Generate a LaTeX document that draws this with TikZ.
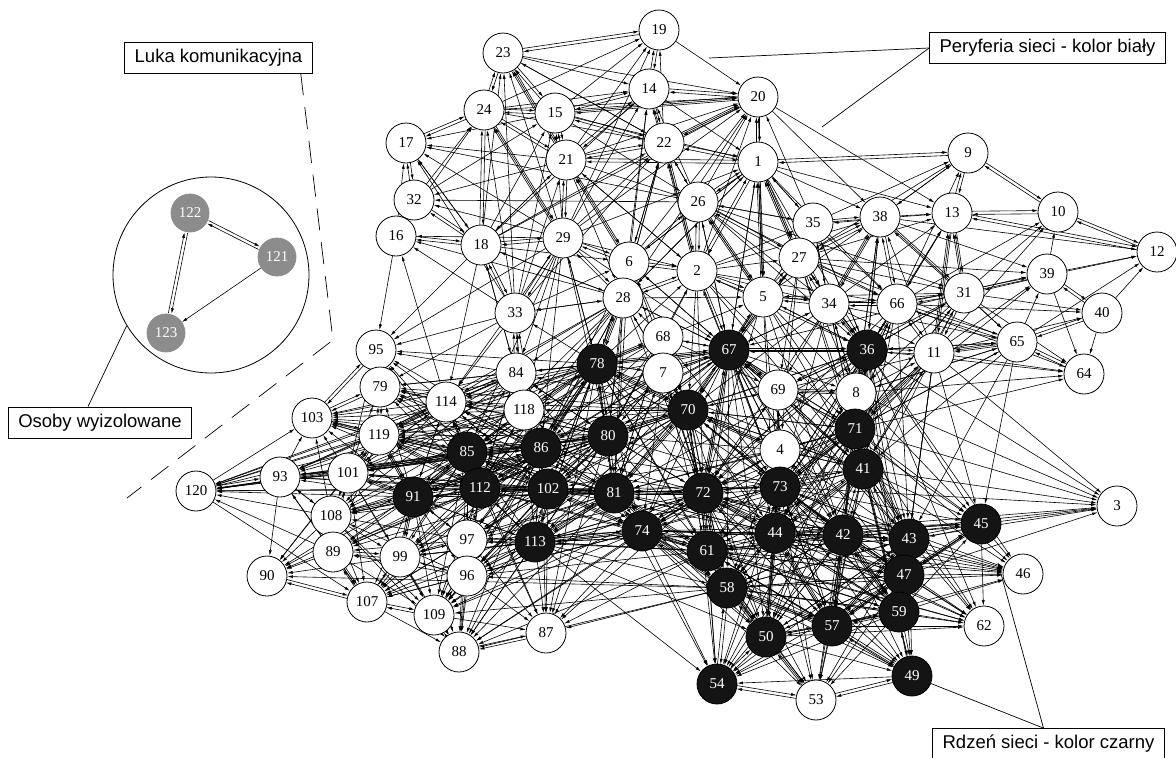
\documentclass[tikz,border=0pt]{standalone}
\usepackage{fontspec}
\usetikzlibrary{arrows.meta,calc}
\newfontfamily\numfont{Liberation Serif}
\newfontfamily\labfont{Liberation Sans}
\definecolor{corefill}{HTML}{141414}
\definecolor{isofill}{HTML}{8C8C8C}
\pgfdeclarelayer{edges}
\pgfsetlayers{edges,main}
\begin{document}
\begin{tikzpicture}[x=1pt,y=-1pt,
  vert/.style={circle,draw=black,line width=0.8pt,minimum size=40pt,inner sep=0pt,
    font=\numfont\fontsize{15}{15}\selectfont},
  pnode/.style={vert,fill=white},
  cnode/.style={vert,fill=corefill,text=white},
  inode/.style={vert,fill=isofill,draw=isofill,text=white,minimum size=38pt},
  arc/.style={line width=0.6pt,-{Latex[length=5.5pt,width=3pt]}},
  twin/.style={arc,shorten <=20pt,shorten >=20pt},
  note/.style={draw,line width=0.8pt,font=\labfont\fontsize{18.5}{20}\selectfont,
    inner xsep=10pt,inner ysep=0pt,minimum height=31pt},
  lead/.style={line width=0.7pt}]
\useasboundingbox (0,0) rectangle (1176,758);

% periphery (white)
\foreach \n/\x/\y in {19/659/30, 23/503/53, 14/649/89, 20/758/97, 24/484/110, 15/555/113,
  17/406/143, 22/664/143, 21/566/160, 1/758/162, 9/968/153, 32/414/200, 26/698/202,
  35/813/223, 38/880/217, 13/952/213, 10/1058/212, 12/1157/252, 16/396/236, 18/481/245,
  29/563/238, 6/629/262, 2/697/271, 27/799/258, 39/1047/274, 5/763/297, 34/829/304,
  66/897/304, 31/964/293, 40/1102/313, 28/623/298, 33/515/313, 68/663/337, 11/934/353,
  65/1017/342, 64/1084/374, 95/376/350, 84/516/373, 7/663/373, 69/778/390, 8/856/393,
  79/380/387, 114/446/402, 118/524/410, 103/312/418, 119/379/435, 4/780/450, 93/280/477,
  101/348/473, 120/196/491, 3/1117/506, 108/331/516, 97/467/540, 89/333/552, 99/400/557,
  46/1023/574, 96/467/576, 90/267/576, 107/367/602, 109/434/615, 62/984/626, 87/546/633,
  88/459/652, 53/816/700}
  \node[pnode] (n\n) at (\x,\y) {\n};

% core (black)
\foreach \n/\x/\y in {78/597/364, 67/729/350, 36/867/350, 70/688/410, 71/855/429,
  80/608/436, 86/541/448, 85/467/452, 41/863/469, 112/480/488, 91/413/497, 102/548/489,
  81/614/493, 72/703/493, 73/780/487, 45/981/524, 74/642/531, 113/535/542, 44/775/533,
  42/843/535, 43/909/539, 61/707/551, 47/904/575, 58/727/588, 59/899/612, 50/766/637,
  57/832/626, 49/912/676, 54/717/684}
  \node[cnode] (n\n) at (\x,\y) {\n};

% isolated group
\node[circle,draw,line width=0.8pt,minimum size=196pt,inner sep=0pt] (iso) at (211,275) {};
\foreach \n/\x/\y in {122/190/213, 121/277/257, 123/166/333}
  \node[inode] (n\n) at (\x,\y) {\n};

\begin{pgfonlayer}{edges}
% reciprocal ties: two parallel arcs
\foreach \a/\b in {122/121, 122/123,
  19/23, 19/14, 23/24, 23/15, 24/15, 24/17, 24/18, 24/21, 15/14, 15/21, 15/22, 14/22,
  14/20, 20/1, 22/21, 22/1, 21/29, 21/1, 17/32, 32/16, 16/18, 18/29, 32/18, 1/9, 1/26,
  1/2, 26/2, 26/27, 9/13, 9/10, 13/10, 10/12, 13/12, 38/35, 38/27, 38/66, 38/31, 35/27,
  27/34, 27/5, 5/2, 2/6, 6/28, 28/29, 29/6, 33/84, 33/18, 95/103, 95/79, 79/103, 79/119,
  119/103, 31/66, 31/11, 31/39, 39/40, 65/40, 65/64, 65/11, 66/11, 66/34, 36/11, 36/34,
  36/8, 36/71, 71/41, 71/8, 71/11, 41/73, 41/42, 41/43, 73/72, 73/44, 72/70, 72/81,
  72/61, 72/74, 70/67, 70/80, 67/78, 67/5, 67/2, 78/80, 78/28, 80/86, 80/81, 86/85,
  86/102, 85/112, 85/91, 112/91, 112/102, 102/81, 102/113, 81/74, 74/61, 74/113, 61/58,
  58/50, 58/54, 50/57, 50/54, 57/59, 59/47, 47/43, 43/45, 45/42, 42/44, 44/61, 59/49,
  57/49, 49/53, 50/53, 54/53, 114/85, 114/119, 118/86, 118/84, 101/91, 101/119, 101/93,
  93/120, 108/89, 108/91, 89/99, 99/107, 107/109, 109/88, 88/87, 96/109, 96/97, 97/113,
  97/112, 99/91, 107/89, 90/107, 34/5, 66/65, 8/69, 4/73, 7/68, 68/78, 28/2, 29/33,
  84/114, 119/85, 44/57, 42/57, 43/59, 47/42, 73/42, 70/81, 80/102, 86/112, 113/81,
  85/101, 112/119, 91/119, 102/85, 86/91, 81/112, 80/85, 78/86, 70/78, 67/72, 72/44,
  73/71, 41/44, 42/59, 44/50, 61/50, 58/57, 74/58, 81/61, 102/74, 113/74, 43/57, 47/57,
  45/47, 71/43, 36/41, 67/36, 67/69, 70/4, 72/58,
  20/22, 20/15, 14/21, 23/21, 24/29, 21/6, 22/2, 1/5, 1/27, 26/5, 38/34, 13/31, 13/11}
{
  \draw[twin] ($(n\a.center)!1.6pt!90:(n\b.center)$) -- ($(n\b.center)!1.6pt!-90:(n\a.center)$);
  \draw[twin] ($(n\b.center)!1.6pt!90:(n\a.center)$) -- ($(n\a.center)!1.6pt!-90:(n\b.center)$);
}
% one-way ties
\foreach \s/\tl in {121/{123},
  78/{67,70,7,68,86,85,112,102,81,72,84,33,118,114,79,95,29,6,2,5,74,113,
      91,101,119,103,93,120,108,97,96,99,109,87,61,58,73,44},
  67/{36,71,73,72,41,44,69,4,8,68,7,80,81,27,34,1,26,6,28,42,61,
      85,86,112,102,118,84,114,74,113,58,50,57,59,47,43,45},
  70/{71,73,41,44,42,81,102,86,61,58,74,4,69,36,7,68,28,
      85,112,91,118,84,114,119,79,113,97,96,50,54,57},
  36/{38,27,66,31,65,69,41,73,72,42,43,45,5,35,13,
      44,61,58,50,57,59,47,62,46,64,3,74,81,80},
  71/{64,3,45,43,42,44,73,4,69,66,31,65,39,47,59,
      72,61,58,50,57,62,46,49,54,53,74,81,70,67},
  41/{45,3,47,59,44,72,4,69,8,11,46,62,57,61,58,50,54,53,49,74,81,70,67,78},
  73/{69,71,43,61,58,50,57,59,47,45,70,67,8,74,113,102,81,80,86,62,46,3,54,53,49},
  72/{4,69,44,42,58,50,57,54,53,80,102,113,67,7,68,112,91,85,86,96,97,109,87,88,62,46,49},
  81/{61,58,113,86,7,68,78,44,73,50,54,87,88,96,97,
      112,91,101,119,85,114,118,84,79,103,109,107,99},
  80/{118,84,85,112,72,7,68,67,113,74,61,114,119,79,
      101,103,91,120,93,108,89,99,97,96,109,88,87},
  86/{84,114,119,79,101,91,113,97,96,81,74,33,28,103,120,93,108,89,99,107,109,88,87,95},
  85/{79,103,101,93,120,108,89,99,97,96,118,84,95,119,114,90,107,109,88,87},
  112/{101,119,93,120,108,89,99,107,109,96,113,90,88,87,114,79,103,95,84,118,80,81,74,61},
  91/{93,120,89,90,107,109,119,103,79,114,101,108,99,97,96,88,85,86,102,113},
  102/{97,96,109,88,87,74,91,85,118,84,99,107,101,119,93,120,108,89,114,79,103},
  113/{87,88,109,96,99,107,61,58,50,54,44,72,73,80,78,86,85,112,91},
  74/{54,58,50,53,87,88,96,109,44,57,42,43,47,59,45,46,62,49,97,99,107},
  61/{50,54,53,57,87,42,43,47,59,45,46,62,49,113,96,97,88},
  58/{53,57,59,49,90,96,109,44,42,43,47,62,46,88,87},
  44/{58,50,54,53,43,47,59,49,4,62,46,45,3,74,81,102,113},
  42/{43,59,50,49,53,54,46,62,58,61,74,81,72,70,73,3},
  43/{46,62,3,49,57,44,73,72,61,58,50,53,54},
  47/{45,46,62,49,57,50,3,44,73,72,61,58,54,53},
  59/{62,46,57,50,54,53,45,44,42,73,72,61,58},
  45/{3,46,62,47},
  57/{53,54,44,42,73,72,61,58,47,43,45,46,62},
  50/{44,42,43,47,59,49,62},
  49/{54},
  4/{69,71,41,72,44,70,67,42,43,61,58,50,57,81,74,80,102},
  69/{67,70,36,71,41,73,72,44,42,43,8,11},
  8/{41,66,38,11,34,73,44,42,43,45,47,64,3,65},
  7/{78,67,70,80,81,72,86,102,85,112,73,74,61},
  68/{67,28,2,6,70,80,81,72,86,85,102,73,69},
  28/{67,5,1,22,20,14,80,70,16,18,72,86,85,112,102,81,118,84,33,114,119},
  6/{14,20,22,21,1,26,78,67,70,80,81,72,86},
  2/{20,14,22,21,70,80,36,27,35,38,72,73,71,41,34,66},
  5/{1,20,26,35,38,36,70,71,66,67,72,73,41,44,42,8},
  27/{1,9,13,39,31,66,36,65,67,71,8,69,4,70,41},
  34/{38,35,13,31,65,71,8,41,69,36,11,67,70,72,73},
  66/{9,13,10,39,40,64,36,71,8,41,73,72,44,43},
  31/{13,10,12,40,64,65,36,71,41,8,69,5,67},
  11/{13,10,38,39,40,64,43,45,71,41,73,44,42,47,59,3},
  65/{12,39,11,36,71,41,8,43,45},
  39/{12,64,10},
  40/{64,12},
  35/{9,13,20,1,26,34,66,36},
  38/{9,13,12,39,65,8,36},
  9/{38},
  13/{66},
  29/{23,24,15,14,22,17,16,32,20,78,84,67,2,80,86,85,118,95,114,19,1},
  18/{17,23,15,22,28,6,95,114,84,20,14,21},
  33/{21,16,24,15,28,6,95,79,114,23,17,22},
  84/{79,119,103,95,18,80,78,102,112,91,101,93,120,108},
  118/{33,114,79,119,103,80,78,102,112,91,101,93,120,85,113},
  114/{79,95,103,16,101,93,120,91,112,102,86,108},
  119/{120,93,108,89,90,91},
  101/{120,103,79,95,90,108,89,99,107,109,112,114,86},
  93/{90,103,108,107},
  108/{120,93,90,103,99,107,109,88,112},
  89/{90,120,107,109,93},
  99/{90,109,88,97,96,113},
  107/{88},
  97/{109,88,87,107,99,108,89,91,85,86,102},
  96/{88,87,107,99,89,108,113,102,74},
  109/{87},
  120/{103,107},
  17/{18},
  16/{17,24,95},
  32/{24,15},
  21/{17,18,26,32,20,19,23,28,2},
  22/{19,20,26,23,6,28},
  14/{1},
  15/{19,20,1,26,17},
  24/{19,14,22,20},
  23/{14,22,20},
  26/{17,32,14,20,22,35,34,66,5,31,67,36},
  1/{13,38,35,27,5,6,28,67,36,66,34},
  20/{13,38},
  19/{20}}
  \foreach \t in \tl \draw[arc] (n\s) -- (n\t);
\end{pgfonlayer}

% annotations
\node[note] (luka) at (218.5,57.5) {Luka komunikacyjna};
\node[note] (peryf) at (1047.5,48) {Peryferia sieci - kolor biały};
\node[note] (osoby) at (100,422.5) {Osoby wyizolowane};
\node[note] (rdzen) at (1048.5,744) {Rdzeń sieci - kolor czarny};

\coordinate (gapA) at (333,340);
\coordinate (gapB) at (127,498);
\draw[lead,dash pattern=on 22pt off 12pt] ([xshift=-12pt]luka.south east) -- (gapA) -- (gapB);

\coordinate (perA) at (709,58);
\coordinate (perB) at (822,127);
\draw[lead] (peryf.west) -- (perA);
\draw[lead] (peryf.west) -- (perB);

\draw[lead] ([xshift=-12pt]osoby.north) -- (iso.211);

\coordinate (rdzA) at (998,563);
\draw[lead] ([xshift=-5pt]rdzen.north) -- (n49);
\draw[lead] ([xshift=-5pt]rdzen.north) -- (rdzA);
\end{tikzpicture}
\end{document}
